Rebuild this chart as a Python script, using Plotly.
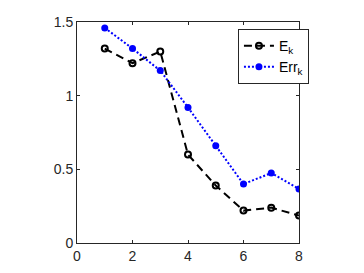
import plotly.graph_objects as go

x_vals = [1, 2, 3, 4, 5, 6, 7, 8]
e_k = [1.32, 1.22, 1.30, 0.60, 0.39, 0.22, 0.24, 0.186]
err_k = [1.46, 1.32, 1.17, 0.92, 0.66, 0.40, 0.475, 0.367]
x_ticks = [0, 2, 4, 6, 8]
y_ticks = [0, 0.5, 1, 1.5]
y_tick_text = ["0", "0.5", "1", "1.5"]

fig = go.Figure()
fig.add_trace(go.Scatter(
    x=x_vals, y=e_k, name="E<sub>k</sub>", mode="lines+markers",
    line=dict(color="black", width=2, dash="8px,5px"),
    marker=dict(symbol="circle-open", size=6, color="black", line=dict(width=2)),
))
fig.add_trace(go.Scatter(
    x=x_vals, y=err_k, name="Err<sub>k</sub>", mode="lines+markers",
    line=dict(color="#0000ff", width=2, dash="2px,2px"),
    marker=dict(symbol="circle", size=7, color="#0000ff"),
))

axis_common = dict(
    showline=True, linecolor="#262626", linewidth=1, mirror="ticks",
    ticks="inside", ticklen=3, tickcolor="#262626",
    showgrid=False, zeroline=False, automargin=False,
    tickfont=dict(family="Liberation Sans, Arial", size=14, color="#262626"),
)
fig.update_xaxes(range=[0, 8], tickvals=x_ticks, **axis_common)
fig.update_yaxes(range=[0, 1.5], tickvals=y_ticks, ticktext=y_tick_text, **axis_common)

fig.update_layout(
    width=348, height=257,
    margin=dict(l=69, r=57, t=14, b=22),
    paper_bgcolor="white", plot_bgcolor="white",
    showlegend=True,
    legend=dict(
        x=0.725, y=0.968, xanchor="left", yanchor="top",
        bgcolor="white", bordercolor="#262626", borderwidth=1,
        font=dict(family="Liberation Sans, Arial", size=14, color="black"),
        itemwidth=30, tracegroupgap=0,
    ),
)

fig.write_html("out.html")
